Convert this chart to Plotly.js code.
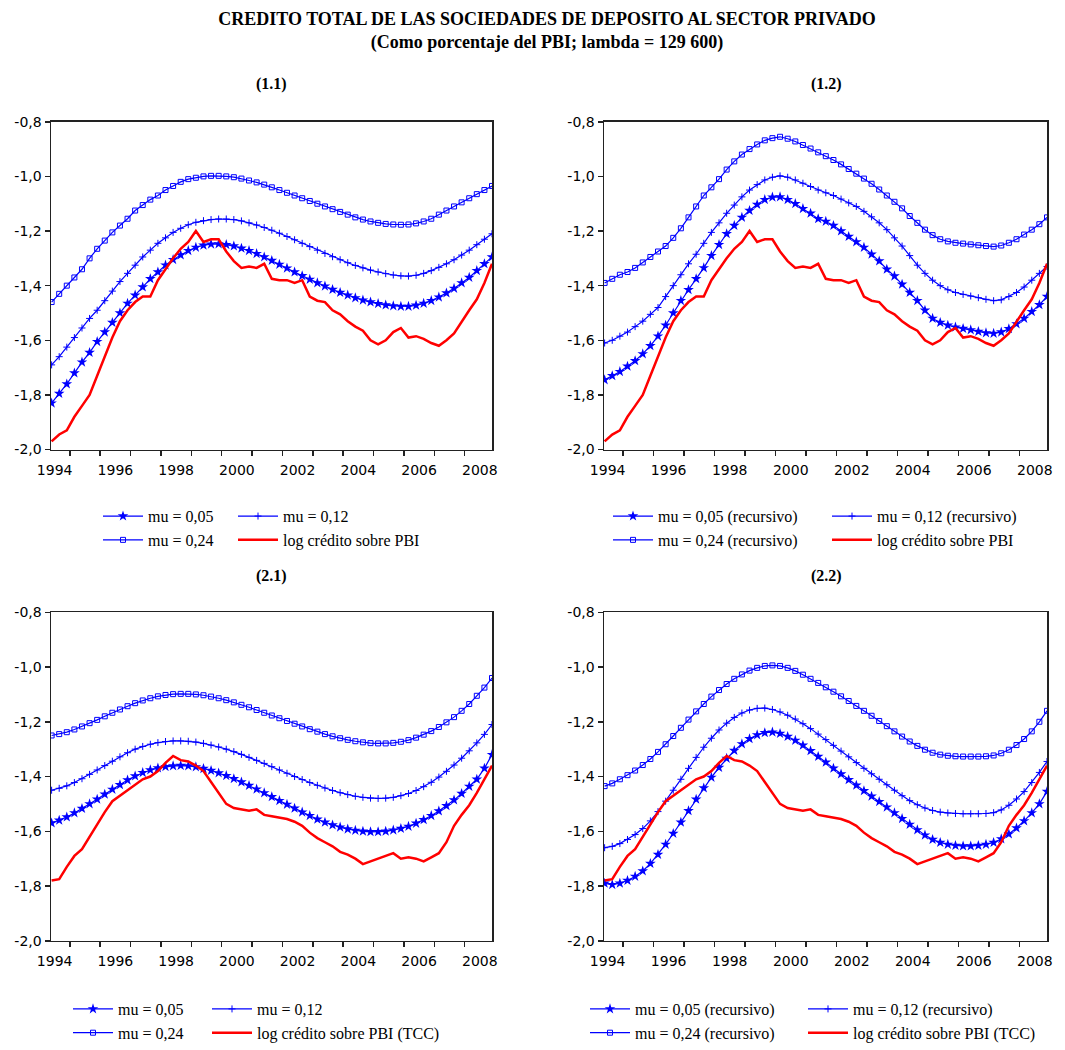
<!DOCTYPE html>
<html>
<head>
<meta charset="utf-8">
<script src="https://cdn.plot.ly/plotly-3.0.1.min.js"></script>
<style>html,body{margin:0;padding:0;background:#fff;}#chart{width:1065px;height:1050px;}</style>
</head>
<body>
<div id="chart"></div>
<script>
// ---------- DATA (quarterly) ----------
const t = [1994.40,1994.65,1994.90,1995.15,1995.40,1995.65,1995.90,1996.15,1996.40,1996.65,1996.90,1997.15,1997.40,1997.65,1997.90,1998.15,1998.40,1998.65,1998.90,1999.15,1999.40,1999.65,1999.90,2000.15,2000.40,2000.65,2000.90,2001.15,2001.40,2001.65,2001.90,2002.15,2002.40,2002.65,2002.90,2003.15,2003.40,2003.65,2003.90,2004.15,2004.40,2004.65,2004.90,2005.15,2005.40,2005.65,2005.90,2006.15,2006.40,2006.65,2006.90,2007.15,2007.40,2007.65,2007.90,2008.15,2008.40,2008.65,2008.90];

// log credit / GDP
const logCredit = [-1.97,-1.945,-1.93,-1.88,-1.84,-1.80,-1.73,-1.66,-1.59,-1.53,-1.49,-1.46,-1.44,-1.44,-1.38,-1.34,-1.30,-1.265,-1.24,-1.20,-1.24,-1.23,-1.23,-1.275,-1.31,-1.335,-1.33,-1.335,-1.32,-1.375,-1.38,-1.38,-1.39,-1.38,-1.44,-1.455,-1.46,-1.49,-1.505,-1.53,-1.55,-1.565,-1.60,-1.615,-1.60,-1.57,-1.555,-1.59,-1.585,-1.595,-1.61,-1.62,-1.60,-1.575,-1.53,-1.49,-1.45,-1.39,-1.32];
// log credit / GDP (TCC)
const logCreditTCC = [-1.78,-1.775,-1.73,-1.69,-1.665,-1.62,-1.57,-1.53,-1.49,-1.47,-1.45,-1.43,-1.41,-1.40,-1.38,-1.35,-1.325,-1.34,-1.345,-1.36,-1.38,-1.42,-1.46,-1.50,-1.515,-1.52,-1.525,-1.52,-1.54,-1.545,-1.55,-1.555,-1.565,-1.58,-1.605,-1.625,-1.64,-1.655,-1.675,-1.685,-1.70,-1.72,-1.71,-1.70,-1.69,-1.68,-1.70,-1.695,-1.70,-1.71,-1.695,-1.68,-1.64,-1.58,-1.54,-1.505,-1.46,-1.41,-1.36];

// Panel 1.1
const p11_mu05 = [-1.83,-1.795,-1.76,-1.72,-1.68,-1.645,-1.605,-1.57,-1.535,-1.50,-1.465,-1.435,-1.405,-1.375,-1.35,-1.325,-1.305,-1.288,-1.272,-1.26,-1.252,-1.248,-1.247,-1.25,-1.255,-1.263,-1.272,-1.283,-1.295,-1.308,-1.322,-1.336,-1.35,-1.364,-1.377,-1.39,-1.402,-1.414,-1.425,-1.435,-1.445,-1.453,-1.46,-1.466,-1.471,-1.474,-1.476,-1.476,-1.472,-1.465,-1.455,-1.442,-1.427,-1.41,-1.39,-1.37,-1.345,-1.32,-1.295];
const p11_mu12 = [-1.69,-1.66,-1.625,-1.59,-1.555,-1.52,-1.49,-1.455,-1.42,-1.385,-1.355,-1.325,-1.295,-1.27,-1.245,-1.225,-1.205,-1.19,-1.177,-1.168,-1.162,-1.158,-1.156,-1.156,-1.158,-1.163,-1.17,-1.178,-1.187,-1.197,-1.208,-1.22,-1.232,-1.245,-1.257,-1.27,-1.282,-1.294,-1.305,-1.316,-1.326,-1.335,-1.343,-1.35,-1.356,-1.361,-1.364,-1.365,-1.362,-1.355,-1.345,-1.333,-1.32,-1.305,-1.288,-1.27,-1.25,-1.23,-1.21];
const p11_mu24 = [-1.46,-1.43,-1.40,-1.37,-1.34,-1.30,-1.265,-1.235,-1.205,-1.18,-1.155,-1.125,-1.105,-1.085,-1.07,-1.05,-1.035,-1.02,-1.01,-1.005,-1.0,-0.998,-0.998,-1.0,-1.003,-1.008,-1.015,-1.022,-1.03,-1.04,-1.05,-1.06,-1.07,-1.08,-1.09,-1.10,-1.11,-1.12,-1.13,-1.14,-1.15,-1.158,-1.165,-1.17,-1.174,-1.176,-1.177,-1.176,-1.172,-1.165,-1.155,-1.14,-1.125,-1.11,-1.095,-1.08,-1.065,-1.05,-1.035];

// Panel 1.2 (recursive)
const p12_mu05 = [-1.745,-1.73,-1.715,-1.695,-1.675,-1.65,-1.62,-1.585,-1.545,-1.50,-1.455,-1.415,-1.375,-1.335,-1.29,-1.25,-1.21,-1.18,-1.15,-1.125,-1.103,-1.085,-1.076,-1.075,-1.085,-1.10,-1.118,-1.135,-1.155,-1.165,-1.18,-1.2,-1.22,-1.24,-1.26,-1.285,-1.31,-1.34,-1.365,-1.395,-1.425,-1.455,-1.49,-1.52,-1.535,-1.545,-1.552,-1.557,-1.562,-1.568,-1.573,-1.575,-1.57,-1.558,-1.54,-1.52,-1.495,-1.47,-1.44];
const p12_mu12 = [-1.61,-1.60,-1.585,-1.57,-1.55,-1.53,-1.505,-1.48,-1.44,-1.40,-1.36,-1.32,-1.285,-1.245,-1.205,-1.17,-1.135,-1.105,-1.075,-1.05,-1.03,-1.013,-1.003,-0.998,-1.003,-1.013,-1.025,-1.037,-1.05,-1.06,-1.07,-1.083,-1.097,-1.11,-1.128,-1.148,-1.17,-1.195,-1.225,-1.255,-1.29,-1.325,-1.355,-1.38,-1.40,-1.415,-1.425,-1.432,-1.438,-1.444,-1.45,-1.455,-1.452,-1.44,-1.425,-1.405,-1.38,-1.355,-1.33];
const p12_mu24 = [-1.39,-1.375,-1.36,-1.35,-1.335,-1.315,-1.295,-1.275,-1.255,-1.225,-1.19,-1.15,-1.11,-1.07,-1.04,-1.01,-0.975,-0.945,-0.92,-0.90,-0.883,-0.868,-0.86,-0.855,-0.862,-0.872,-0.885,-0.898,-0.912,-0.926,-0.94,-0.956,-0.973,-0.99,-1.008,-1.027,-1.048,-1.07,-1.093,-1.117,-1.145,-1.17,-1.195,-1.215,-1.23,-1.238,-1.243,-1.246,-1.249,-1.252,-1.255,-1.257,-1.253,-1.243,-1.23,-1.213,-1.195,-1.175,-1.15];

// Panel 2.1 (TCC)
const p21_mu05 = [-1.57,-1.56,-1.548,-1.533,-1.517,-1.5,-1.483,-1.465,-1.447,-1.43,-1.413,-1.398,-1.386,-1.376,-1.369,-1.364,-1.361,-1.36,-1.361,-1.365,-1.371,-1.378,-1.387,-1.397,-1.408,-1.42,-1.433,-1.446,-1.46,-1.474,-1.488,-1.502,-1.516,-1.53,-1.543,-1.556,-1.567,-1.577,-1.585,-1.592,-1.597,-1.6,-1.602,-1.602,-1.6,-1.596,-1.59,-1.582,-1.571,-1.558,-1.543,-1.526,-1.507,-1.486,-1.462,-1.436,-1.41,-1.37,-1.32];
const p21_mu12 = [-1.45,-1.443,-1.434,-1.422,-1.408,-1.392,-1.376,-1.36,-1.344,-1.328,-1.313,-1.3,-1.29,-1.282,-1.276,-1.272,-1.27,-1.27,-1.271,-1.274,-1.279,-1.285,-1.292,-1.3,-1.309,-1.319,-1.33,-1.341,-1.352,-1.364,-1.376,-1.388,-1.4,-1.411,-1.422,-1.432,-1.442,-1.451,-1.459,-1.466,-1.472,-1.476,-1.479,-1.48,-1.479,-1.476,-1.47,-1.462,-1.451,-1.437,-1.421,-1.402,-1.381,-1.358,-1.333,-1.306,-1.277,-1.246,-1.21];
const p21_mu24 = [-1.25,-1.245,-1.238,-1.228,-1.217,-1.205,-1.193,-1.18,-1.167,-1.155,-1.143,-1.132,-1.122,-1.114,-1.107,-1.102,-1.099,-1.098,-1.098,-1.1,-1.103,-1.108,-1.114,-1.121,-1.129,-1.138,-1.147,-1.157,-1.167,-1.177,-1.187,-1.197,-1.207,-1.217,-1.227,-1.236,-1.245,-1.253,-1.26,-1.266,-1.271,-1.275,-1.278,-1.279,-1.279,-1.277,-1.273,-1.267,-1.258,-1.247,-1.234,-1.219,-1.202,-1.183,-1.16,-1.135,-1.105,-1.075,-1.04];

// Panel 2.2 (TCC, recursive)
const p22_mu05 = [-1.79,-1.795,-1.79,-1.78,-1.765,-1.745,-1.718,-1.685,-1.648,-1.608,-1.567,-1.525,-1.483,-1.442,-1.403,-1.367,-1.334,-1.305,-1.281,-1.262,-1.248,-1.24,-1.238,-1.243,-1.254,-1.268,-1.286,-1.306,-1.327,-1.348,-1.37,-1.391,-1.412,-1.432,-1.452,-1.472,-1.492,-1.512,-1.533,-1.554,-1.575,-1.595,-1.614,-1.63,-1.641,-1.648,-1.652,-1.654,-1.654,-1.652,-1.648,-1.641,-1.628,-1.61,-1.588,-1.562,-1.533,-1.5,-1.455];
const p22_mu12 = [-1.66,-1.655,-1.645,-1.63,-1.612,-1.59,-1.562,-1.528,-1.49,-1.45,-1.41,-1.37,-1.33,-1.293,-1.26,-1.23,-1.205,-1.184,-1.168,-1.157,-1.151,-1.15,-1.155,-1.164,-1.176,-1.19,-1.207,-1.225,-1.245,-1.265,-1.286,-1.307,-1.328,-1.349,-1.37,-1.39,-1.41,-1.43,-1.45,-1.47,-1.488,-1.503,-1.515,-1.524,-1.53,-1.533,-1.535,-1.536,-1.536,-1.536,-1.535,-1.532,-1.522,-1.505,-1.482,-1.455,-1.422,-1.385,-1.345];
const p22_mu24 = [-1.435,-1.425,-1.41,-1.395,-1.378,-1.358,-1.336,-1.31,-1.282,-1.252,-1.222,-1.192,-1.162,-1.135,-1.108,-1.084,-1.062,-1.043,-1.027,-1.013,-1.003,-0.996,-0.994,-0.996,-1.003,-1.014,-1.028,-1.043,-1.058,-1.074,-1.09,-1.107,-1.124,-1.142,-1.16,-1.178,-1.197,-1.216,-1.235,-1.254,-1.272,-1.288,-1.302,-1.313,-1.32,-1.324,-1.326,-1.327,-1.327,-1.327,-1.326,-1.323,-1.315,-1.302,-1.285,-1.263,-1.235,-1.2,-1.16];

// Tick labels
const yTickVals = [-2.0,-1.8,-1.6,-1.4,-1.2,-1.0,-0.8];
const yTickText = ['-2,0','-1,8','-1,6','-1,4','-1,2','-1,0','-0,8'];
const yearTickVals = [1995,1996,1997,1998,1999,2000,2001,2002,2003,2004,2005,2006,2007,2008];
const yearLabelPos = [1994.5,1996.5,1998.5,2000.5,2002.5,2004.5,2006.5,2008.5];
const yearLabels = ['1994','1996','1998','2000','2002','2004','2006','2008'];

// Titles / names
const mainTitle = 'CREDITO TOTAL DE LAS SOCIEDADES DE DEPOSITO AL SECTOR PRIVADO';
const subTitle = '(Como porcentaje del PBI; lambda = 129 600)';
const panelTitles = ['(1.1)','(1.2)','(2.1)','(2.2)'];
const namesPlain = ['mu = 0,05','mu = 0,12','mu = 0,24'];
const namesRec = ['mu = 0,05 (recursivo)','mu = 0,12 (recursivo)','mu = 0,24 (recursivo)'];
const redNames = ['log crédito sobre PBI','log crédito sobre PBI','log crédito sobre PBI (TCC)','log crédito sobre PBI (TCC)'];

// ---------- LAYOUT ----------
const W = 1065, H = 1050;
const px = v => v / W;
const py = v => 1 - v / H;

const panels = [
  {series:[p11_mu05,p11_mu12,p11_mu24], red:logCredit,    names:namesPlain, xd:[51,492],  yd:[122.7,453], leg:[[98,503],[233,503]], title:[271,85]},
  {series:[p12_mu05,p12_mu12,p12_mu24], red:logCredit,    names:namesRec,   xd:[604,1047],yd:[122.7,453], leg:[[608,503],[827,503]], title:[826,85]},
  {series:[p21_mu05,p21_mu12,p21_mu24], red:logCreditTCC, names:namesPlain, xd:[51,492],  yd:[617,948],  leg:[[68,1000],[207,1000]], title:[271,580]},
  {series:[p22_mu05,p22_mu12,p22_mu24], red:logCreditTCC, names:namesRec,   xd:[604,1047],yd:[617,948],  leg:[[585,1000],[803,1000]], title:[826,580]}
];

const BLUE = '#0000ff', RED = '#ff0000';
const markerStyles = [
  {symbol:'star', size:8, color:BLUE, line:{width:0}},
  {symbol:'cross-thin-open', size:5, color:BLUE, line:{width:1, color:BLUE}},
  {symbol:'square-open', size:5, color:BLUE, line:{width:1, color:BLUE}}
];
const legendCol = [0,1,0]; // mu05 col1, mu12 col2, mu24 col1 ; red col2

const data = [];
const layout = {
  width: W, height: H,
  margin: {l:0, r:0, t:0, b:0},
  paper_bgcolor: '#fff', plot_bgcolor: '#fff',
  showlegend: true,
  hovermode: false,
  title: {
    text: '<b>' + mainTitle + '</b><br><b>' + subTitle + '</b>',
    x: 547 / W, xanchor: 'center', xref: 'paper',
    y: py(25), yanchor: 'top', yref: 'container',
    font: {family: 'Liberation Serif', size: 18, color: '#000'}
  },
  annotations: []
};

const tickFont = {family: 'DejaVu Sans', size: 14, color: '#000'};
const legFont = {family: 'Liberation Serif', size: 16, color: '#000'};

panels.forEach((p, i) => {
  const n = i === 0 ? '' : String(i + 1);
  const xk = 'xaxis' + n, yk = 'yaxis' + n;
  const xr = 'x' + n, yr = 'y' + n;
  const legA = 'legend' + (2*i+1 === 1 ? '' : String(2*i+1));
  const legB = 'legend' + String(2*i+2);
  const legs = [legA, legB];

  layout[xk] = {
    domain: [px(p.xd[0]), px(p.xd[1])],
    anchor: yr,
    range: [1994.38, 2008.9],
    tickmode: 'array', tickvals: yearLabelPos, ticktext: yearLabels,
    ticks: '', tickfont: tickFont, ticklabelstandoff: 7,
    minor: {tickmode: 'array', tickvals: yearTickVals, ticks: 'outside', ticklen: 5, tickwidth: 1.5, tickcolor: '#222', showgrid: false},
    showline: true, linecolor: '#222', linewidth: 1.5, mirror: true,
    showgrid: false, zeroline: false, fixedrange: true
  };
  layout[yk] = {
    domain: [py(p.yd[1]), py(p.yd[0])],
    anchor: xr,
    range: [-2.0, -0.8],
    tickmode: 'array', tickvals: yTickVals, ticktext: yTickText,
    ticks: 'outside', ticklen: 5, tickwidth: 1.5, tickcolor: '#222',
    tickfont: tickFont,
    showline: true, linecolor: '#222', linewidth: 1.5, mirror: true,
    showgrid: false, zeroline: false, fixedrange: true
  };

  p.series.forEach((s, j) => {
    data.push({
      type: 'scatter', mode: 'lines+markers',
      x: t, y: s, xaxis: xr, yaxis: yr,
      name: p.names[j], legend: legs[legendCol[j]],
      line: {color: BLUE, width: 1.2},
      marker: markerStyles[j],
      hoverinfo: 'skip'
    });
  });
  data.push({
    type: 'scatter', mode: 'lines',
    x: t, y: p.red, xaxis: xr, yaxis: yr,
    name: redNames[i], legend: legB,
    line: {color: RED, width: 2.5},
    hoverinfo: 'skip'
  });

  [legA, legB].forEach((lk, c) => {
    layout[lk] = {
      x: px(p.leg[c][0]), y: py(p.leg[c][1]),
      xanchor: 'left', yanchor: 'top',
      orientation: 'v',
      bgcolor: 'rgba(0,0,0,0)', borderwidth: 0,
      font: legFont, itemwidth: 40,
      traceorder: 'normal', tracegroupgap: 0
    };
  });

  layout.annotations.push({
    text: '<b>' + panelTitles[i] + '</b>',
    xref: 'paper', yref: 'paper',
    x: px(p.title[0]), y: py(p.title[1]),
    xanchor: 'center', yanchor: 'middle', showarrow: false,
    font: {family: 'Liberation Serif', size: 16, color: '#000'}
  });
});

Plotly.newPlot('chart', data, layout, {staticPlot: true, displayModeBar: false});
</script>
</body>
</html>
